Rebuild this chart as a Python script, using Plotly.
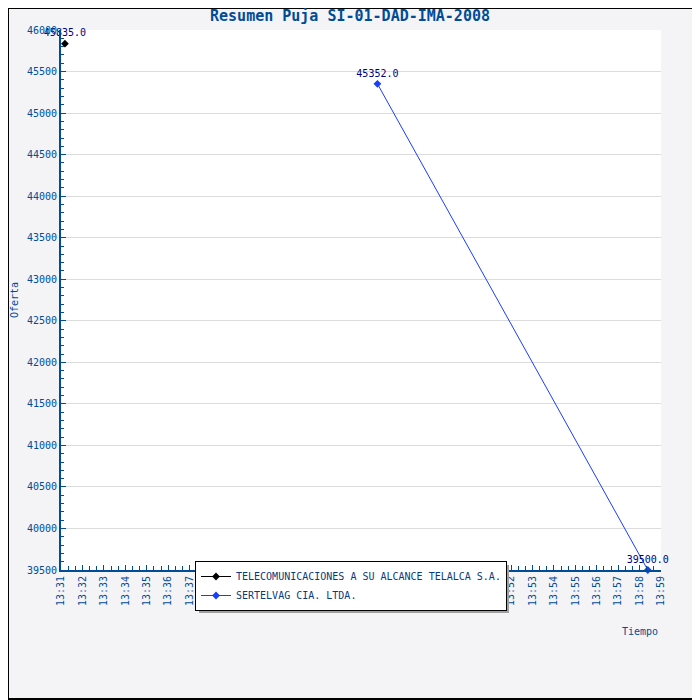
import plotly.graph_objects as go

# bids
telalca_time = ["2008-01-01 13:31:11"]
telalca_bid = [45835.0]
sertelvag_time = ["2008-01-01 13:45:46", "2008-01-01 13:58:23"]
sertelvag_bid = [45352.0, 39500.0]

FONT = "DejaVu Sans Mono"
BLUE = "#004c99"

# the page body has an 8px margin, so the figure is 8px smaller
OFF = 8
W = H = 700 - OFF
# plot area in page pixels: x 61..661, y 30..570
L, R, T, B = 61 - OFF, 700 - 661, 30 - OFF, 700 - 570
PW, PH = W - L - R, H - T - B


def px_x(p):
    return (p - OFF - L) / PW


def px_y(p):
    return (H - B - (p - OFF)) / PH


fig = go.Figure()
fig.add_trace(
    go.Scatter(
        x=telalca_time,
        y=telalca_bid,
        name="TELECOMUNICACIONES A SU ALCANCE TELALCA S.A.",
        mode="lines+markers+text",
        line=dict(color="black", width=1),
        marker=dict(symbol="diamond", size=6, color="black"),
        text=[f"{v:.1f}" for v in telalca_bid],
        textposition="top center",
        textfont=dict(family=FONT, size=10, color="#000080"),
        cliponaxis=False,
    )
)
fig.add_trace(
    go.Scatter(
        x=sertelvag_time,
        y=sertelvag_bid,
        name="SERTELVAG CIA. LTDA.",
        mode="lines+markers+text",
        line=dict(color="#1a3cff", width=1),
        marker=dict(symbol="diamond", size=6, color="#1a3cff"),
        text=[f"{v:.1f}" for v in sertelvag_bid],
        textposition="top center",
        textfont=dict(family=FONT, size=10, color="#000080"),
        cliponaxis=False,
    )
)

# outer frame and legend shadow
fig.add_shape(type="rect", xref="paper", yref="paper",
              x0=px_x(OFF), x1=px_x(699), y0=px_y(699), y1=px_y(OFF),
              line=dict(color="black", width=2), layer="below")
fig.add_shape(type="rect", xref="paper", yref="paper",
              x0=px_x(199), x1=px_x(509), y0=px_y(613), y1=px_y(565),
              fillcolor="#a0a0a0", line=dict(width=0), layer="above")

fig.update_layout(
    width=W,
    height=H,
    margin=dict(l=L, r=R, t=T, b=B),
    paper_bgcolor="#f4f4f6",
    plot_bgcolor="white",
    font=dict(family=FONT, size=10, color=BLUE),
    title=dict(text="<b>Resumen Puja SI-01-DAD-IMA-2008</b>",
               x=(350 - OFF) / W, y=1 - (16 - OFF) / H,
               xref="container", yref="container",
               xanchor="center", yanchor="middle",
               font=dict(family=FONT, size=15, color=BLUE)),
    showlegend=True,
    legend=dict(x=px_x(195), y=px_y(561), xanchor="left", yanchor="top",
                bgcolor="white", bordercolor="black", borderwidth=1,
                font=dict(family=FONT, size=10, color="#0a3a80"),
                tracegroupgap=0, itemsizing="trace", itemwidth=30),
    xaxis=dict(
        type="date",
        range=["2008-01-01 13:31:00", "2008-01-01 13:59:00"],
        dtick=60000,
        tick0="2008-01-01 13:31:00",
        tickformat="%H:%M",
        tickangle=-90,
        ticks="inside",
        ticklen=5,
        tickcolor=BLUE,
        minor=dict(dtick=20000, ticks="inside", ticklen=4, tickcolor=BLUE),
        showline=True,
        linecolor=BLUE,
        linewidth=2,
        showgrid=False,
        zeroline=False,
        tickfont=dict(family=FONT, size=10, color=BLUE),
    ),
    yaxis=dict(
        range=[39500, 46000],
        dtick=500,
        tick0=39500,
        tickformat="d",
        ticks="inside",
        ticklen=5,
        tickcolor=BLUE,
        minor=dict(dtick=100, ticks="inside", ticklen=3, tickcolor=BLUE, showgrid=False),
        showline=True,
        linecolor=BLUE,
        linewidth=2,
        showgrid=True,
        gridcolor="#dcdcdc",
        zeroline=False,
        tickfont=dict(family=FONT, size=10, color=BLUE),
    ),
)

fig.add_annotation(text="Oferta", xref="paper", yref="paper",
                   x=px_x(14), y=px_y(300), xanchor="center", yanchor="middle",
                   textangle=-90, showarrow=False,
                   font=dict(family=FONT, size=10, color=BLUE))
fig.add_annotation(text="Tiempo", xref="paper", yref="paper",
                   x=px_x(660), y=px_y(631), xanchor="right", yanchor="middle",
                   showarrow=False,
                   font=dict(family=FONT, size=10, color=BLUE))

fig.write_html("out.html")
